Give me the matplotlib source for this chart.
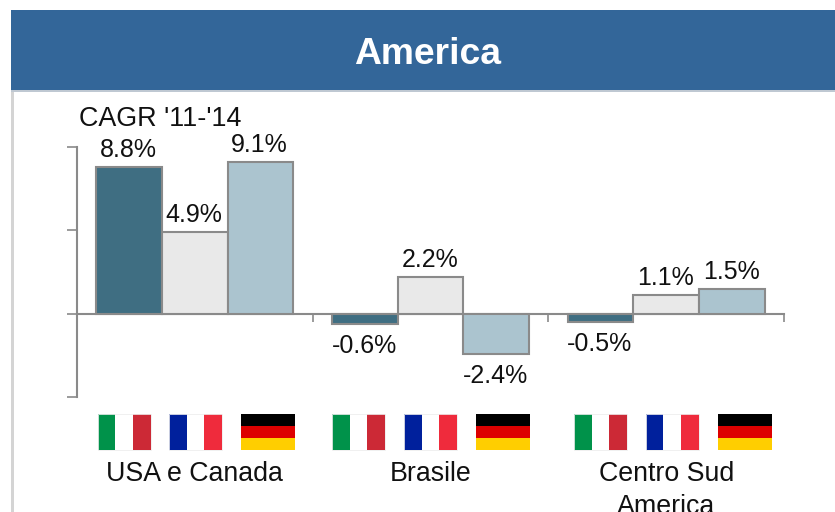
import matplotlib
matplotlib.use("Agg")
import matplotlib.pyplot as plt
from matplotlib.patches import Rectangle
import numpy as np

plt.rcParams['font.family'] = ['Liberation Sans', 'DejaVu Sans']

W, H = 835, 512
categories = ["USA e Canada", "Brasile", "Centro Sud\nAmerica"]
italy = [8.8, -0.6, -0.5]
france = [4.9, 2.2, 1.1]
germany = [9.1, -2.4, 1.5]
series_values = [italy, france, germany]
series_colors = ["#3F6E82", "#E9E9E9", "#ABC4CF"]
y_ticks = [-5, 0, 5, 10]
title = "America"
subtitle = "CAGR '11-'14"

flag_left_px = [[97.5, 169, 241], [332, 404, 476], [574, 645.5, 718]]
flag_it = ["#00924A", "#FFFFFF", "#CC2936"]
flag_fr = ["#00209C", "#FFFFFF", "#EF2B3C"]
flag_de = ["#000000", "#DD0000", "#FFCE00"]

fig = plt.figure(figsize=(W / 100, H / 100), dpi=100, facecolor="white")

# page chrome in pixel coordinates
bg = fig.add_axes([0, 0, 1, 1], zorder=0)
bg.set_xlim(0, W)
bg.set_ylim(H, 0)
bg.axis("off")
bg.add_patch(Rectangle((11, 90), 2.5, H - 90, fc="#D4D4D4", ec="none"))
bg.add_patch(Rectangle((11, 89.5), W - 11, 2, fc="#BFC8D2", ec="none"))
bg.add_patch(Rectangle((11, 10), W - 11, 80, fc="#336699", ec="none"))
bg.text(428, 55, title, color="white", fontsize=26.8, fontweight="bold",
        ha="center", va="center")
bg.text(160.5, 125.5, subtitle, color="#111111", fontsize=19.4, ha="center", va="baseline")


def flag(x, y, w, h, cols, vertical=True):
    n = len(cols)
    for i, c in enumerate(cols):
        if vertical:
            bg.add_patch(Rectangle((x + i * w / n, y), w / n, h, fc=c, ec="none"))
        else:
            bg.add_patch(Rectangle((x, y + i * h / n), w, h / n, fc=c, ec="none"))
    if vertical:
        bg.add_patch(Rectangle((x, y), w, h, fc="none", ec="#EEEEEE", lw=0.6))


for lefts in flag_left_px:
    flag(lefts[0], 414, 53, 36, flag_it)
    flag(lefts[1], 414, 53, 36, flag_fr)
    flag(lefts[2], 414, 54, 36, flag_de, vertical=False)

# data axes
L, R, T, B = 77, 784, 147, 397
ax = fig.add_axes([L / W, 1 - B / H, (R - L) / W, (B - T) / H], zorder=2)
ax.patch.set_alpha(0)
ax.set_xlim(-0.5, 2.5)
ax.set_ylim(-5, 10)
x = np.arange(len(categories))
bw = 65.6 / ((R - L) / 3)
GRAY = "#8A8A8A"
for i, (vals, col) in enumerate(zip(series_values, series_colors)):
    pos = x + (i - 1) * bw
    ax.bar(pos, vals, width=bw, color=col, edgecolor=GRAY, linewidth=1.5, zorder=3)
    for p, v in zip(pos, vals):
        off = 7.2 if v >= 0 else -21
        ax.annotate(f"{v:.1f}%", (p, v), xytext=(-0.5, off), textcoords="offset points",
                    ha="center", va="baseline", fontsize=18, color="#111111",
                    annotation_clip=False)

for s in ["top", "right"]:
    ax.spines[s].set_visible(False)
ax.spines["bottom"].set_position(("data", 0))
for s in ["bottom", "left"]:
    ax.spines[s].set_color(GRAY)
    ax.spines[s].set_linewidth(1.5)
ax.set_yticks(y_ticks)
ax.set_yticklabels([])
ax.tick_params(axis="y", length=7.5, width=1.2, color=GRAY)
ax.set_xticks(x)
ax.set_xticklabels(categories, fontsize=19.3, color="#111111", linespacing=1.35)
ax.set_xticks([-0.5, 0.5, 1.5, 2.5], minor=True)
ax.tick_params(axis="x", which="major", length=0, pad=106)
ax.tick_params(axis="x", which="minor", length=6, width=1.2, color=GRAY)

fig.savefig("out.png", dpi=100, facecolor="white")
